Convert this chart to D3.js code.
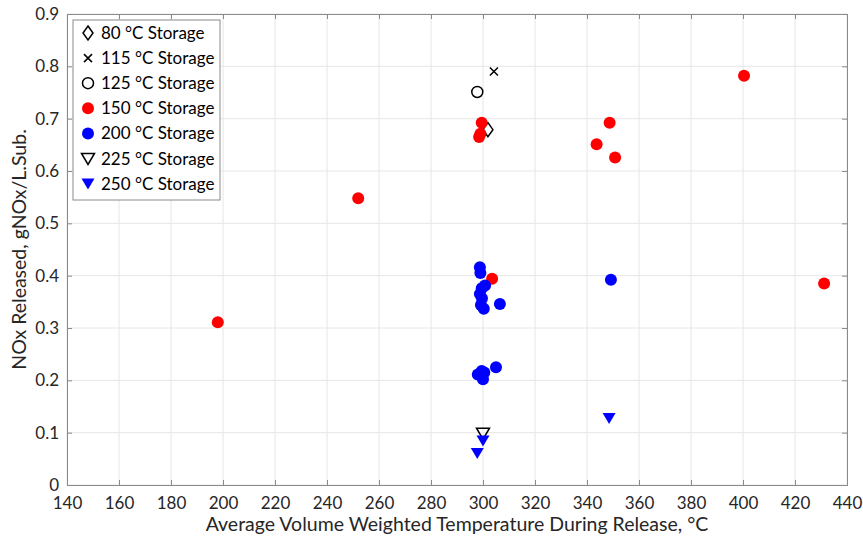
<!DOCTYPE html>
<html>
<head>
<meta charset="utf-8">
<script src="https://cdn.jsdelivr.net/npm/d3@7"></script>
<style>
  body { margin: 0; background: #fff; }
  text { font-family: Lato, "Open Sans", sans-serif; }
</style>
</head>
<body>
<div id="chart"></div>
<script>
// chart size
const width = 863;
const height = 541;
const margin = { top: 14, right: 16, bottom: 56, left: 67 };

// data: [temperature, NOx]
const storage80 = [[301.9, 0.679]];
const storage115 = [[304.2, 0.790]];
const storage125 = [[297.8, 0.751]];
const storage150 = [
  [198, 0.311], [252, 0.548], [303.5, 0.394], [299.5, 0.692], [298.5, 0.665],
  [299, 0.671], [348.7, 0.692], [343.7, 0.651], [350.8, 0.626], [400.4, 0.782],
  [431.2, 0.385]
];
const storage200 = [
  [298.8, 0.416], [299, 0.405], [300.8, 0.381], [299.5, 0.376], [298.8, 0.365],
  [299.6, 0.357], [299.2, 0.344], [300.3, 0.337], [306.5, 0.346],
  [298, 0.211], [299.5, 0.218], [300.5, 0.215], [300, 0.202], [305, 0.225],
  [349.2, 0.392]
];
const storage225 = [[300, 0.099]];
const storage250 = [[300, 0.085], [297.8, 0.061], [348.5, 0.128]];

const xTicks = d3.range(140, 441, 20);
const yTicks = [0, 0.1, 0.2, 0.3, 0.4, 0.5, 0.6, 0.7, 0.8, 0.9];
const legendLabels = ["80 °C Storage", "115 °C Storage", "125 °C Storage", "150 °C Storage",
  "200 °C Storage", "225 °C Storage", "250 °C Storage"];

const series = [
  { data: storage80, shape: "diamond", fill: "none", stroke: "#000" },
  { data: storage115, shape: "cross", fill: "none", stroke: "#000" },
  { data: storage125, shape: "circle", fill: "none", stroke: "#000" },
  { data: storage150, shape: "circle", fill: "#ff0000", stroke: "none" },
  { data: storage200, shape: "circle", fill: "#0000ff", stroke: "none" },
  { data: storage225, shape: "tri", fill: "none", stroke: "#000" },
  { data: storage250, shape: "tri", fill: "#0000ff", stroke: "none" }
];

const svg = d3.select("#chart")
  .append("svg")
  .attr("width", width)
  .attr("height", height);

const x = d3.scaleLinear().domain([140, 440]).range([margin.left, width - margin.right]);
const y = d3.scaleLinear().domain([0, 0.9]).range([height - margin.bottom, margin.top]);

// grid
svg.append("g").selectAll("line").data(xTicks).enter().append("line")
  .attr("x1", d => x(d)).attr("x2", d => x(d))
  .attr("y1", y(0)).attr("y2", y(0.9))
  .attr("stroke", "#e6e6e6");
svg.append("g").selectAll("line").data(yTicks).enter().append("line")
  .attr("x1", x(140)).attr("x2", x(440))
  .attr("y1", d => y(d)).attr("y2", d => y(d))
  .attr("stroke", "#e6e6e6");

// axes (ticks point inward)
svg.append("g")
  .attr("transform", `translate(0,${y(0)})`)
  .call(d3.axisBottom(x).tickValues(xTicks).tickSize(-5).tickPadding(12));
svg.append("g")
  .attr("transform", `translate(${x(140)},0)`)
  .call(d3.axisLeft(y).tickValues(yTicks).tickSize(-5).tickPadding(8).tickFormat(d => d === 0 ? "0" : d3.format(".1f")(d)));
svg.append("g")
  .attr("transform", `translate(0,${y(0.9)})`)
  .call(d3.axisTop(x).tickValues(xTicks).tickSize(-5).tickFormat(""));
svg.append("g")
  .attr("transform", `translate(${x(440)},0)`)
  .call(d3.axisRight(y).tickValues(yTicks).tickSize(-5).tickFormat(""));

svg.selectAll(".domain, .tick line").attr("stroke", "#8a8a8a");
svg.selectAll(".tick text").attr("fill", "#262626").style("font-size", "17px");

// axis titles
svg.append("text")
  .attr("x", (x(140) + x(440)) / 2).attr("y", 531)
  .attr("text-anchor", "middle").attr("fill", "#262626")
  .style("font-size", "19.5px")
  .text("Average Volume Weighted Temperature During Release, °C");
svg.append("text")
  .attr("transform", `translate(26,${(y(0) + y(0.9)) / 2}) rotate(-90)`)
  .attr("text-anchor", "middle").attr("fill", "#262626")
  .style("font-size", "19.5px")
  .text("NOx Released, gNOx/L.Sub.");

// marker shapes
function marker(sel, s) {
  if (s.shape === "circle") {
    sel.append("circle").attr("r", s.fill === "none" ? 5.5 : 6)
      .attr("fill", s.fill).attr("stroke", s.stroke).attr("stroke-width", 1.5);
  } else if (s.shape === "diamond") {
    sel.append("path").attr("d", "M0,-7L5,0L0,7L-5,0Z")
      .attr("fill", s.fill).attr("stroke", s.stroke).attr("stroke-width", 1.5);
  } else if (s.shape === "cross") {
    sel.append("path").attr("d", "M-4,-4L4,4M-4,4L4,-4")
      .attr("stroke", s.stroke).attr("stroke-width", 1.5);
  } else if (s.shape === "tri") {
    sel.append("path").attr("d", "M-6.5,-5L6.5,-5L0,6Z")
      .attr("fill", s.fill).attr("stroke", s.stroke === "none" ? "none" : s.stroke)
      .attr("stroke-width", 1.5);
  }
}

// points
const plot = svg.append("g");
series.forEach(s => {
  plot.append("g").selectAll("g").data(s.data).enter().append("g")
    .attr("transform", d => `translate(${x(d[0])},${y(d[1])})`)
    .each(function () { marker(d3.select(this), s); });
});

// legend
const legend = svg.append("g").attr("transform", "translate(73,20)");
legend.append("rect").attr("width", 147).attr("height", 180)
  .attr("fill", "#fff").attr("stroke", "#8a8a8a");
series.forEach((s, i) => {
  const row = legend.append("g").attr("transform", `translate(15,${13 + i * 25.1})`);
  marker(row, s);
  row.append("text").attr("x", 13).attr("y", 6)
    .attr("fill", "#000").style("font-size", "17px")
    .text(legendLabels[i]);
});
</script>
</body>
</html>
